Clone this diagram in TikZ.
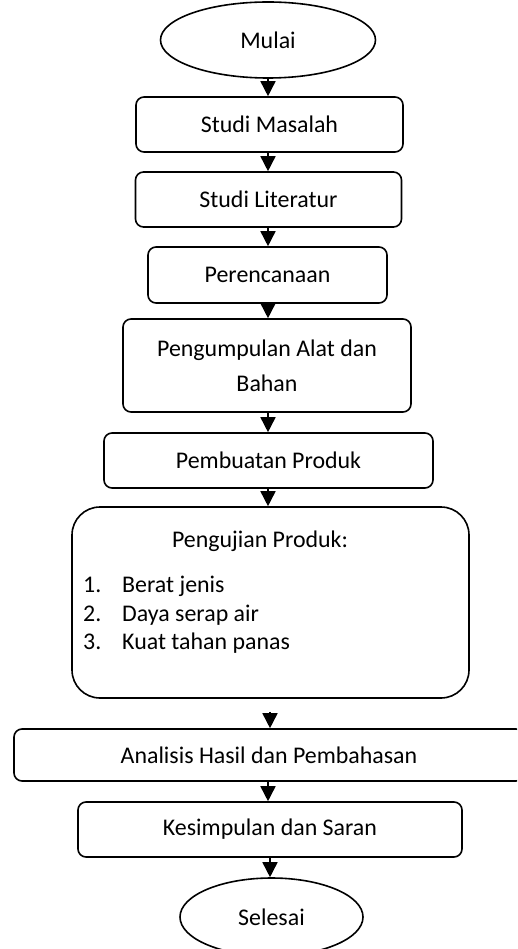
\documentclass[tikz,border=0pt]{standalone}
\usepackage{fontspec}
\setmainfont{Carlito}
\usetikzlibrary{shapes.geometric,arrows.meta}
\begin{document}
\begin{tikzpicture}[x=1pt,y=-1pt,
  every node/.style={font=\fontsize{23.9}{35}\selectfont, inner sep=0pt},
  term/.style={draw, ellipse, line width=1.6pt},
  proc/.style={draw, rounded corners=8pt, line width=1.6pt},
  flow/.style={line width=1.6pt, -{Triangle[width=15pt,length=15pt]}},
  txt/.style={anchor=mid west}]
\clip (0,0) rectangle (517,949);
\useasboundingbox (0,0) rectangle (517,949);
\node[term, minimum width=215pt, minimum height=76pt] (mulai) at (268,40) {Mulai};
\node[proc, minimum width=267pt, minimum height=55pt] (sm) at (269.5,124.5) {Studi Masalah};
\node[proc, minimum width=266pt, minimum height=55pt] (sl) at (268.5,199.5) {Studi Literatur};
\node[proc, minimum width=239pt, minimum height=56pt] (per) at (267.5,275) {Perencanaan};
\node[proc, minimum width=288pt, minimum height=93pt, align=center] (pen) at (267,365.5) {Pengumpulan Alat dan\\Bahan};
\node[proc, minimum width=329pt, minimum height=55pt] (pb) at (268.5,460.5) {Pembuatan Produk};
\node[proc, rounded corners=28pt, minimum width=397pt, minimum height=191pt] (pu) at (270.5,602.5) {};
\node[anchor=mid] (put) at (260,545) {Pengujian Produk:};
\node[txt] (n1) at (83,590) {1.};
\node[txt] (i1) at (122,590) {Berat jenis};
\node[txt] (n2) at (83,619) {2.};
\node[txt] (i2) at (122,619) {Daya serap air};
\node[txt] (n3) at (83,647) {3.};
\node[txt] (i3) at (122,647) {Kuat tahan panas};
\node[proc, minimum width=510pt, minimum height=52pt] (an) at (269,755) {Analisis Hasil dan Pembahasan};
\node[proc, minimum width=384pt, minimum height=55pt] (ks) at (270,829.5) {Kesimpulan dan Saran};
\node[term, minimum width=183pt, minimum height=78pt] (sel) at (271.5,917) {Selesai};
\draw[flow] (mulai.south) -- (mulai.south |- sm.north);
\draw[flow] (sm.south -| 268,0) -- (268,0 |- sl.north);
\draw[flow] (sl.south -| 268,0) -- (268,0 |- per.north);
\draw[flow] (per.south -| 268,0) -- (268,0 |- pen.north);
\draw[flow] (pen.south -| 268,0) -- (268,0 |- pb.north);
\draw[flow] (pb.south -| 268,0) -- (268,0 |- pu.north);
\draw[flow, shorten <=13pt] (pu.south -| 270,0) -- (270,0 |- an.north);
\draw[flow] (an.south -| 268,0) -- (268,0 |- ks.north);
\draw[flow] (ks.south -| 270,0) -- (270,0 |- sel.north);
\end{tikzpicture}
\end{document}
